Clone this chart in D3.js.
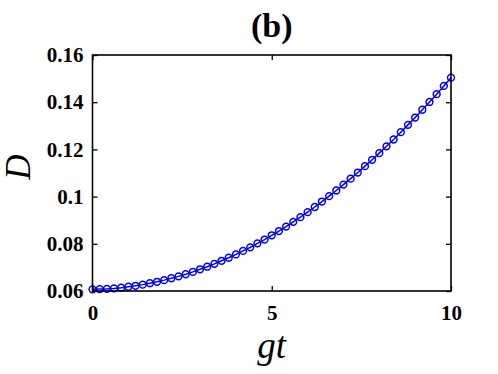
<!DOCTYPE html>
<html>
<head>
<meta charset="utf-8">
<script src="https://cdn.jsdelivr.net/npm/d3@7"></script>
<style>
  body { margin: 0; background: #fff; }
  svg { display: block; }
</style>
</head>
<body>
<svg id="chart" width="498" height="374"></svg>
<script>
// values
const gt = [0, 0.2, 0.4, 0.6, 0.8, 1, 1.2, 1.4, 1.6, 1.8, 2, 2.2, 2.4, 2.6, 2.8, 3, 3.2, 3.4, 3.6, 3.8,
            4, 4.2, 4.4, 4.6, 4.8, 5, 5.2, 5.4, 5.6, 5.8, 6, 6.2, 6.4, 6.6, 6.8, 7, 7.2, 7.4, 7.6, 7.8,
            8, 8.2, 8.4, 8.6, 8.8, 9, 9.2, 9.4, 9.6, 9.8, 10];
const D = [0.0607, 0.0608, 0.0609, 0.0611, 0.0614, 0.0618, 0.0622, 0.0627, 0.0633, 0.0639,
           0.0646, 0.0654, 0.0662, 0.0671, 0.0681, 0.0692, 0.0703, 0.0715, 0.0728, 0.0741,
           0.0755, 0.0770, 0.0785, 0.0802, 0.0818, 0.0836, 0.0854, 0.0873, 0.0893, 0.0913,
           0.0934, 0.0956, 0.0979, 0.1002, 0.1026, 0.1051, 0.1076, 0.1102, 0.1129, 0.1156,
           0.1184, 0.1213, 0.1242, 0.1273, 0.1304, 0.1335, 0.1368, 0.1401, 0.1434, 0.1469, 0.1504];
const xTicks = [0, 5, 10];
const yTicks = [0.06, 0.08, 0.1, 0.12, 0.14, 0.16];
const yTickLabels = ["0.06", "0.08", "0.1", "0.12", "0.14", "0.16"];

const plotLeft = 92.5, plotRight = 451, plotTop = 55, plotBottom = 291;
const serif = '"Liberation Serif", "Times New Roman", serif';

const svg = d3.select("#chart");

const xScale = d3.scaleLinear().domain([0, 10]).range([plotLeft, plotRight]);
const yScale = d3.scaleLinear().domain([0.06, 0.16]).range([plotBottom, plotTop]);

const data = gt.map((t, i) => ({t: t, d: D[i]}));

// curve
svg.append("path")
    .datum(data)
    .attr("fill", "none")
    .attr("stroke", "#0000ff")
    .attr("stroke-width", 1.5)
    .attr("d", d3.line().x(d => xScale(d.t)).y(d => yScale(d.d)));

svg.selectAll("circle.pt")
    .data(data)
    .join("circle")
    .attr("class", "pt")
    .attr("cx", d => xScale(d.t))
    .attr("cy", d => yScale(d.d))
    .attr("r", 3.4)
    .attr("fill", "none")
    .attr("stroke", "#0000ff")
    .attr("stroke-width", 1.5);

// axes with inward ticks, box on
function styleAxis(g) {
    g.select(".domain").remove();
    g.selectAll(".tick line").attr("stroke", "#000").attr("stroke-width", 1.3);
    g.selectAll(".tick text")
        .attr("fill", "#000")
        .style("font-family", serif)
        .style("font-weight", "bold")
        .style("font-size", "21px");
}

svg.append("g")
    .attr("transform", `translate(0,${plotBottom})`)
    .call(d3.axisBottom(xScale).tickValues(xTicks).tickSizeInner(-5).tickSizeOuter(0).tickPadding(14))
    .call(styleAxis);

svg.append("g")
    .attr("transform", `translate(0,${plotTop})`)
    .call(d3.axisTop(xScale).tickValues(xTicks).tickSizeInner(-5).tickSizeOuter(0).tickFormat(""))
    .call(styleAxis);

svg.append("g")
    .attr("transform", `translate(${plotLeft},0)`)
    .call(d3.axisLeft(yScale).tickValues(yTicks).tickSizeInner(-5).tickSizeOuter(0).tickPadding(9)
        .tickFormat((d, i) => yTickLabels[i]))
    .call(styleAxis);

svg.append("g")
    .attr("transform", `translate(${plotRight},0)`)
    .call(d3.axisRight(yScale).tickValues(yTicks).tickSizeInner(-5).tickSizeOuter(0).tickFormat(""))
    .call(styleAxis);

svg.append("rect")
    .attr("x", plotLeft).attr("y", plotTop)
    .attr("width", plotRight - plotLeft).attr("height", plotBottom - plotTop)
    .attr("fill", "none")
    .attr("stroke", "#000")
    .attr("stroke-width", 1.6);

// title and labels
svg.append("text")
    .attr("x", (plotLeft + plotRight) / 2)
    .attr("y", 37)
    .attr("text-anchor", "middle")
    .style("font-family", serif)
    .style("font-weight", "bold")
    .style("font-size", "34px")
    .text("(b)");

svg.append("text")
    .attr("x", (plotLeft + plotRight) / 2)
    .attr("y", 358)
    .attr("text-anchor", "middle")
    .style("font-family", serif)
    .style("font-style", "italic")
    .style("font-size", "37px")
    .text("gt");

svg.append("text")
    .attr("transform", `translate(30,167) rotate(-90)`)
    .attr("text-anchor", "middle")
    .style("font-family", serif)
    .style("font-style", "italic")
    .style("font-size", "35px")
    .text("D");
</script>
</body>
</html>
